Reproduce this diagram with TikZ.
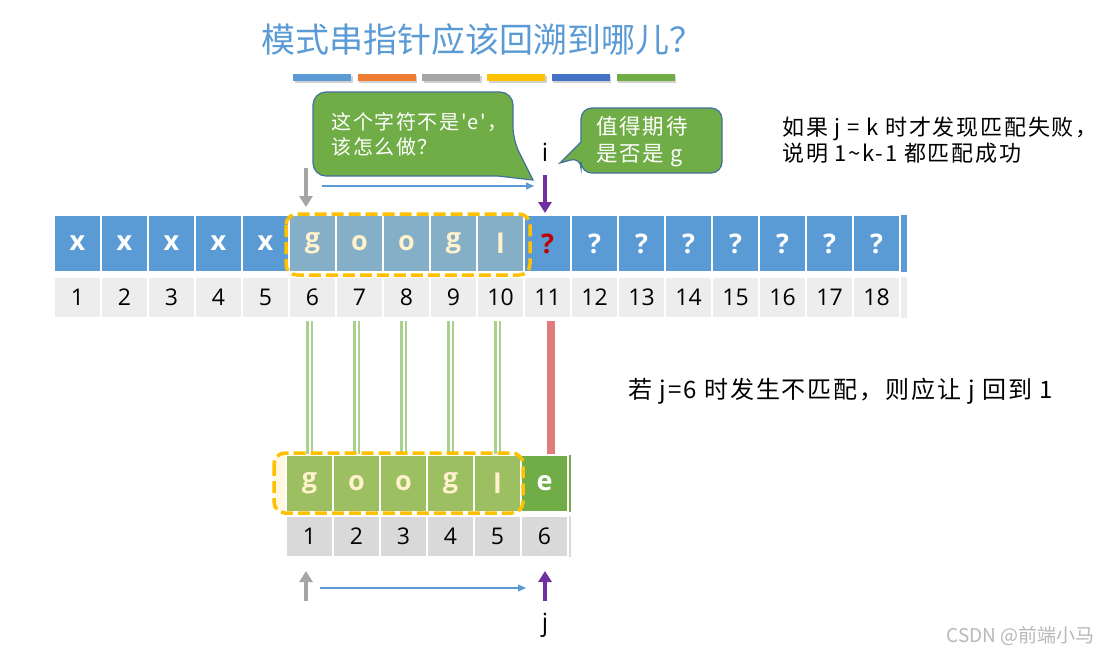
\documentclass[tikz,border=0pt]{standalone}
\usepackage{fontspec}
\setmainfont{Open Sans}
\newfontfamily\cjk{Noto Sans CJK SC}
\newfontfamily\cjksp{Noto Sans CJK SC}[LetterSpace=8]
\usetikzlibrary{arrows.meta}
\definecolor{cblue}{HTML}{5B9BD5}
\definecolor{corange}{HTML}{ED7D31}
\definecolor{cgray}{HTML}{A5A5A5}
\definecolor{cyellow}{HTML}{FFC000}
\definecolor{cdblue}{HTML}{4472C4}
\definecolor{cgreen}{HTML}{70AD47}
\definecolor{lgreen}{HTML}{9CBF62}
\definecolor{gblue}{HTML}{85AEC7}
\definecolor{cream}{HTML}{FFF2CC}
\definecolor{idxA}{HTML}{EDEDED}
\definecolor{idxB}{HTML}{D9D9D9}
\definecolor{cpurple}{HTML}{7030A0}
\definecolor{cred}{HTML}{C00000}
\definecolor{redline}{HTML}{DF7B7B}
\definecolor{gline}{HTML}{A9D18E}
\definecolor{bubbleedge}{HTML}{41719C}
\tikzset{
  cellbox/.style={draw=white, line width=1.5pt, inner sep=0pt, minimum width=47pt, minimum height=57pt, font=\bfseries\fontsize{27}{27}\selectfont},
  idxbox/.style={draw=white, line width=1.5pt, inner sep=0pt, minimum width=47pt, minimum height=41pt, font=\fontsize{23}{23}\selectfont, text=black},
  grayarrow/.style={draw=cgray, line width=4.5pt, -{Triangle[width=13pt,length=11pt]}},
  purplearrow/.style={draw=cpurple, line width=4.5pt, -{Triangle[width=13pt,length=11pt]}},
  bluearrow/.style={draw=cblue, line width=1.1pt, -{Triangle[width=7pt,length=8pt]}},
  matchline/.style={draw=gline, line width=2.3pt, double=white, double distance=2pt},
  failline/.style={draw=redline, line width=8pt},
  dashbox/.style={draw=cyellow, line width=3.5pt, dash pattern=on 12pt off 5pt, rounded corners=11pt},
  bubble/.style={fill=cgreen, draw=bubbleedge, line width=1.2pt},
}
\begin{document}
\begin{tikzpicture}[x=1pt,y=-1pt]
\useasboundingbox (0,0) rectangle (1103,657);
\fill[white] (0,0) rectangle (1103,657);

% title
\node[text=cblue, font=\cjk\fontsize{34}{34}\selectfont] (title) at (482,40) {模式串指针应该回溯到哪儿？};
% colour bars
\foreach \c [count=\k] in {cblue,corange,cgray,cyellow,cdblue,cgreen} {
  \fill[black, opacity=0.18] ({228.3+64.7*\k+1.5},{74+1.5}) rectangle ++(58,7);
  \fill[\c] ({228.3+64.7*\k},74) rectangle ++(58,7);
}

% top row (main string)
\foreach \i in {1,...,5}
  \node[cellbox, fill=cblue, text=white] (t\i) at ({30.5+47*\i},243.5) {x};
\foreach \t [count=\k from 6] in {g,o,o,g,l}
  \node[cellbox, fill=gblue, text=cream] (t\k) at ({30.5+47*\k},243.5) {\t};
\node[cellbox, fill=cblue, text=cred] (t11) at ({30.5+47*11},243.5) {?};
\foreach \i in {12,...,18}
  \node[cellbox, fill=cblue, text=white] (t\i) at ({30.5+47*\i},243.5) {?};
\foreach \i in {1,...,18}
  \node[idxbox, fill=idxA] (n\i) at ({30.5+47*\i},297.5) {\i};
\fill[cblue] (901,215) rectangle (907,272);
\fill[idxA] (901,277) rectangle (907,318);

% bottom row (pattern)
\fill[cream!60] (276,455) rectangle (300,511);
\foreach \t [count=\k] in {g,o,o,g,l}
  \node[cellbox, fill=lgreen, text=cream] (p\k) at ({262.5+47*\k},483.5) {\t};
\node[cellbox, fill=cgreen, text=white] (p6) at ({262.5+47*6},483.5) {e};
\foreach \i in {1,...,6}
  \node[idxbox, fill=idxB] (q\i) at ({262.5+47*\i},536.5) {\i};
\fill[cgreen] (569,455) rectangle (571,512);
\fill[idxB] (569,516) rectangle (571,557);

% match lines
\foreach \k in {1,...,5}
  \draw[matchline] (p\k.north) -- ++(0,-133);
\draw[failline] ([xshift=6.5pt]p6.north) -- ++(0,-133);

% dashed boxes
\draw[dashbox] (286,214) rectangle (530,275);
\draw[dashbox] (274,453) rectangle (523,513);

% top arrows
\coordinate (ga1) at (306,168); \coordinate (ga2) at (306,207);
\draw[grayarrow] (ga1) -- (ga2);
\coordinate (ba1) at (322,186); \coordinate (ba2) at (534,186);
\draw[bluearrow] (ba1) -- (ba2);
\coordinate (pa1) at (545,175); \coordinate (pa2) at (545,213);
\draw[purplearrow] (pa1) -- (pa2);
\node[font=\fontsize{25}{25}\selectfont] (ilabel) at (545,152) {i};

% bottom arrows
\coordinate (gb1) at (306,601); \coordinate (gb2) at (306,571);
\draw[grayarrow] (gb1) -- (gb2);
\coordinate (bb1) at (320,588); \coordinate (bb2) at (526,588);
\draw[bluearrow] (bb1) -- (bb2);
\coordinate (pb1) at (545,601); \coordinate (pb2) at (545,571);
\draw[purplearrow] (pb1) -- (pb2);
\node[font=\fontsize{25}{25}\selectfont] (jlabel) at (545,625) {j};

% callouts
\filldraw[bubble] (400,92) [rounded corners=13pt] -- (513,92) -- (513,140) [sharp corners] -- (533,180) -- (498,176) [rounded corners=13pt] -- (313,176) -- (313,92) -- cycle;
\node[anchor=west, align=left, text=white, font=\cjksp\fontsize{20}{25.5}\selectfont] (q1text) at (328,134.5) {这个字符不是'e'，\\该怎么做？};
\filldraw[bubble] (650,108) [rounded corners=11pt] -- (722,108) -- (722,173) -- (581,173) -- (581,157) [sharp corners] -- (560,163) -- (581,142) [rounded corners=11pt] -- (581,108) -- cycle;
\node[anchor=west, align=left, text=white, font=\cjksp\fontsize{21.5}{27}\selectfont] (q2text) at (593,141.5) {值得期待\\是否是 g};

% side texts
\node[anchor=west, align=left, font=\cjksp\fontsize{22}{26}\selectfont] (note1) at (779,140) {如果 j = k 时才发现匹配失败，\\说明 1\textasciitilde k-1 都匹配成功};
\node[anchor=west, font=\cjksp\fontsize{24}{24}\selectfont] (note2) at (625,391) {若 j=6 时发生不匹配，则应让 j 回到 1};

% watermark
\node[anchor=east, text=black!28, font=\cjk\fontsize{19}{19}\selectfont] (wm) at (1098,636) {CSDN @前端小马};
\end{tikzpicture}
\end{document}
